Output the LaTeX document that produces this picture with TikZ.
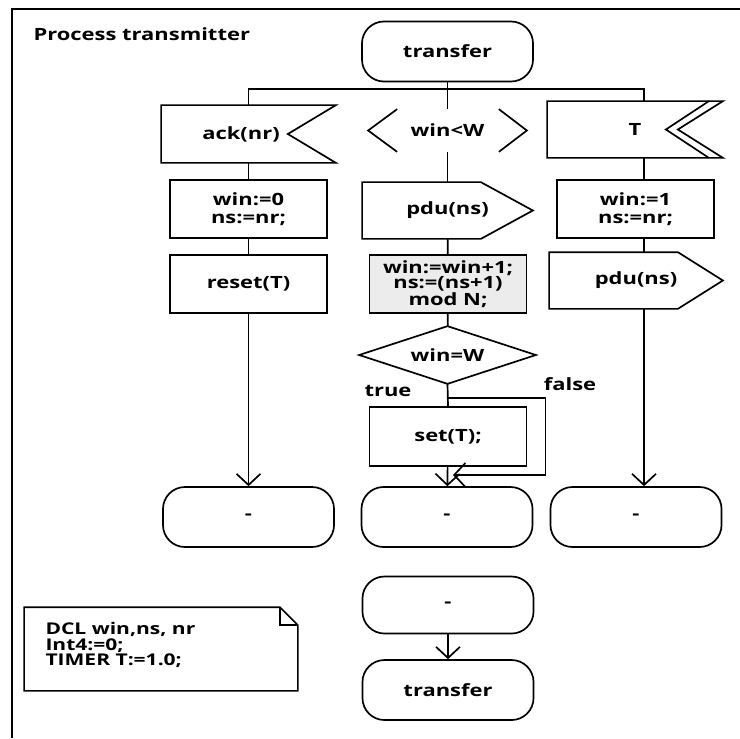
\documentclass[tikz,border=0pt]{standalone}
\usepackage{fontspec}
\setmainfont[FakeStretch=1.3]{Open Sans}
\usetikzlibrary{arrows.meta,calc}

\begin{document}
\begin{tikzpicture}[x=0.025cm, y=-0.025cm, line width=1.2pt,
  every node/.style={font=\bfseries\fontsize{12}{12.7}\selectfont},
  term/.style={draw,rounded corners=0.55cm,minimum width=4.275cm,minimum height=1.5cm},
  task/.style={draw,align=center,minimum width=3.925cm,minimum height=1.45cm},
  holder/.style={minimum height=1.375cm},
  arr/.style={-{Straight Barb[length=0.28cm,width=0.6cm]}}]
  \useasboundingbox (0,0) rectangle (740,738);
  \draw[line width=1.4pt] (12,738) -- (12,9) -- (740,9);
  \node[anchor=west] (title) at (28,34) {Process transmitter};

  \node[term] (tr) at (447.5,51.5) {transfer};
  \coordinate (busR) at (644,89);

  % inputs
  \node[holder,minimum width=4.325cm,minimum height=1.4cm] (ack) at (248.5,134) {};
  \draw (ack.north west) -- (ack.north east) -- ($(ack.east)+(-48,0)$)
    -- (ack.south east) -- (ack.south west) -- cycle;
  \node (ackt) at (241,134) {ack(nr)};

  \node[minimum width=3.925cm,minimum height=1.025cm] (wlt) at (447.5,130.5) {win<W};
  \draw ($(wlt.north west)+(29,0)$) -- (wlt.west) -- ($(wlt.south west)+(29,0)$);
  \draw ($(wlt.north east)+(-28,0)$) -- (wlt.east) -- ($(wlt.south east)+(-28,0)$);

  \node[holder,minimum width=4.35cm] (T) at (635,129.5) {T};
  \draw (T.north west) -- (T.north east) -- ($(T.east)+(-45,0)$)
    -- (T.south east) -- (T.south west) -- cycle;
  \draw ($(T.north east)+(-14,0)$) -- ($(T.east)+(-57,0)$) -- ($(T.south east)+(-14,0)$);

  % left column
  \node[task] (a1) at (248.5,209) {win:=0\\ns:=nr;};
  \node[task] (reset) at (248.5,284) {reset(T)};

  % middle column
  \node[holder,minimum width=4.225cm] (pdu1) at (447.5,210.5) {pdu(ns)};
  \draw (pdu1.north west) -- ($(pdu1.north east)+(-52,0)$) -- (pdu1.east)
    -- ($(pdu1.south east)+(-52,0)$) -- (pdu1.south west) -- cycle;
  \node[task,fill=gray!15,font=\bfseries\fontsize{12}{11}\selectfont]
    (upd) at (448,284) {win:=win+1;\\ns:=(ns+1)\\mod N;};
  \node[minimum width=4.375cm,minimum height=1.4cm] (dec) at (447.5,355) {win=W};
  \draw (dec.north) -- (dec.east) -- (dec.south) -- (dec.west) -- cycle;
  \node (true) at (388,391) {true};
  \node (false) at (570,384) {false};
  \node[task,minimum height=1.475cm] (setT) at (448,436.5) {set(T);};
  \coordinate (fork) at (447.5,398);
  \coordinate (fend) at (453,475);

  % right column
  \node[task] (a2) at (635.5,209) {win:=1\\ns:=nr;};
  \node[holder,minimum width=4.3cm] (pdu2) at (636,280.5) {pdu(ns)};
  \draw (pdu2.north west) -- ($(pdu2.north east)+(-45,0)$) -- (pdu2.east)
    -- ($(pdu2.south east)+(-45,0)$) -- (pdu2.south west) -- cycle;

  % ends
  \node[term] (e1) at (248.5,517) {-};
  \node[term] (e2) at (447,517) {-};
  \node[term] (e3) at (636,517) {-};

  \node[term,minimum height=1.425cm] (s1) at (448,605) {-};
  \node[term] (tr2) at (448,690) {transfer};

  % declarations
  \node[minimum width=6.8cm,minimum height=2.05cm] (note) at (161,649) {};
  \draw (note.north west) -- ($(note.north east)+(-18,0)$) -- ($(note.north east)+(0,18)$)
    -- (note.south east) -- (note.south west) -- cycle;
  \draw ($(note.north east)+(-18,0)$) -- ($(note.north east)+(-18,18)$) -- ($(note.north east)+(0,18)$);
  \node[anchor=west,align=left,font=\bfseries\fontsize{11.5}{11.2}\selectfont]
    (dcl) at (40,645) {DCL win,ns, nr\\Int4:=0;\\TIMER T:=1.0;};

  % flow
  \draw (tr.south) -- (wlt.north);
  \draw (ack.north) |- (busR) -- (busR |- T.north);
  \draw (ack.south) -- (a1.north);
  \draw (a1) -- (reset);
  \draw[arr] (reset) -- (e1);
  \draw (wlt.south) -- (pdu1.north);
  \draw (pdu1) -- (upd);
  \draw (upd) -- (dec);
  \draw (dec.south) -- (setT.north);
  \draw[arr] (setT) -- (e2);
  \draw[arr] (fork) -- ++(98,0) |- (fend);
  \draw (busR |- T.south) -- (busR |- a2.north);
  \draw (busR |- a2.south) -- (busR |- pdu2.north);
  \draw[arr] (busR |- pdu2.south) -- (busR |- e3.north);
  \draw[arr] (s1) -- (tr2);
\end{tikzpicture}
\end{document}
